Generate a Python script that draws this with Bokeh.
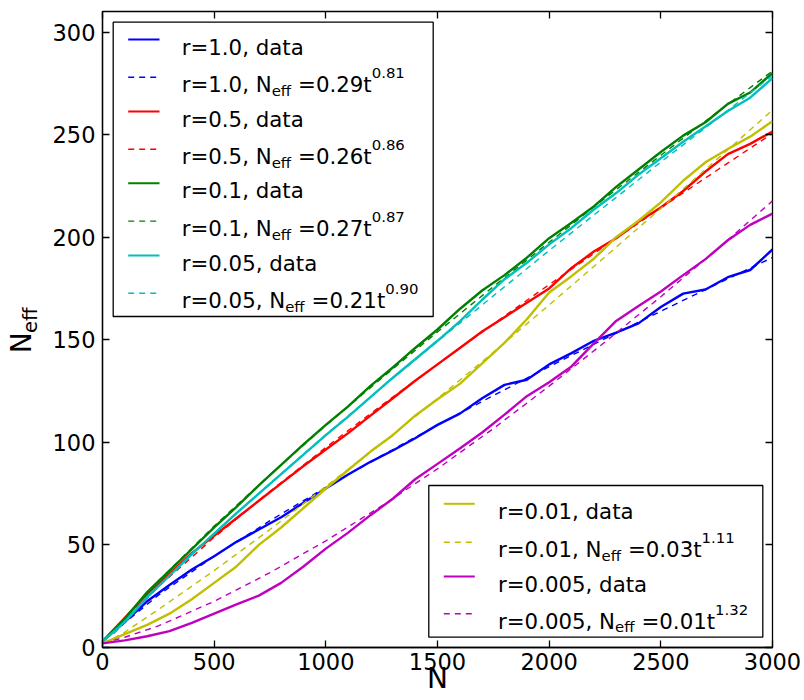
from bokeh.plotting import figure
from bokeh.models import Range1d, LinearAxis, FixedTicker
from bokeh.core.properties import value
from bokeh.embed import file_html
from bokeh.resources import INLINE

# ---------------- data ----------------
N_DATA = [0, 100, 200, 300, 400, 500, 600, 700, 800, 900, 1000, 1100, 1200, 1300, 1400,
          1500, 1600, 1700, 1800, 1900, 2000, 2100, 2200, 2300, 2400, 2500, 2600, 2700,
          2800, 2900, 3000]
BLUE_DATA = [3, 12.5, 22.5, 30.5, 38, 44.5, 51.5, 57.5, 63.5, 70.5, 77.5, 84.3, 90.5, 96, 102,
             108.5, 114, 121.5, 128, 130.5, 138, 143.5, 149.5, 153.5, 158, 166, 172.5, 174.5,
             180.5, 184, 194]
RED_DATA = [3, 14.5, 26, 36, 46, 54.5, 63, 71.5, 80, 88.5, 96.5, 104.5, 113, 121.5, 130,
            138, 146, 154, 161, 168, 175, 185, 193, 199.5, 207.5, 214.5, 222.5, 232,
            240.5, 245.5, 251.5]
GREEN_DATA = [3, 14, 27, 37.5, 48, 58.5, 68.5, 79, 89, 99, 108.5, 117.5, 127.5, 136.5, 146,
              155, 165, 174, 181.5, 190, 199.5, 207, 215, 224.5, 233, 241.5, 249.5, 256,
              265, 270.5, 280]
CYAN_DATA = [3, 12.5, 24.5, 35, 45.5, 55.5, 65.5, 75, 84.5, 94, 103.5, 112.5, 122, 131.5, 140.5,
             149.5, 159, 169.5, 179.5, 187.5, 196.5, 204.5, 213.5, 221.5, 230.5, 238.5, 246.5,
             254, 261.5, 268, 277.5]
YELLOW_DATA = [2, 6.5, 11, 16.5, 23.5, 31.5, 39.5, 50, 58.5, 68, 77.5, 86.5, 95.5, 103.5, 113,
               121, 128.5, 138.5, 148.5, 160, 173, 181, 189.5, 200, 208, 217, 227.5, 236.5,
               243, 249, 256.5]
MAGENTA_DATA = [2, 3.5, 5.5, 8, 12, 16.5, 21, 25.3, 31.5, 39.5, 48.2, 56, 64.5, 72.5, 82,
                89.5, 97, 104.8, 113.5, 122.5, 129.3, 137, 148.2, 159.2, 166.5, 173.5, 181.5,
                189.3, 198.5, 206, 211.5]

N_FIT = [50, 100, 250, 500, 750, 1000, 1250, 1500, 1750, 2000, 2250, 2500, 2750, 3000]
BLUE_FIT = [7, 12.1, 25.5, 44.5, 61.8, 78.1, 93.5, 108.4, 122.8, 136.9, 150.5, 163.9, 177.1, 190.1]
RED_FIT = [7.4, 13.4, 29.6, 53.7, 76.1, 97.5, 118.1, 138, 157.7, 176.9, 195.7, 214.3, 232.5, 250.6]
GREEN_FIT = [8.0, 14.6, 32.4, 59.2, 84.2, 108.2, 131.3, 153.8, 175.9, 197.5, 219, 239.9, 260.7, 281]
CYAN_FIT = [7.0, 13.1, 29.7, 55.6, 80.0, 103.7, 126.7, 149.2, 171.4, 193.5, 215.1, 236.6, 257.6, 278.8]
YELLOW_FIT = [4.5, 7.5, 18.5, 37.5, 57.5, 78.5, 99.5, 121.3, 143.9, 167.0, 190.4, 214.0, 237.8, 262.0]
MAGENTA_FIT = [3.5, 5, 10.5, 22.5, 36.5, 52, 69, 87.1, 106.7, 127.4, 148.9, 171.0, 193.9, 217.7]

R_LABELS = ["1.0", "0.5", "0.1", "0.05", "0.01", "0.005"]
FIT_COEF = ["0.29", "0.26", "0.27", "0.21", "0.03", "0.01"]
FIT_EXP = ["0.81", "0.86", "0.87", "0.90", "1.11", "1.32"]
COLORS = ["#0000ff", "#ff0000", "#008000", "#00bfbf", "#bfbf00", "#bf00bf"]

X_TICKS = [0, 500, 1000, 1500, 2000, 2500, 3000]
Y_TICKS = [0, 50, 100, 150, 200, 250, 300]
X_MAX, Y_MAX = 3000, 310

DATA = [BLUE_DATA, RED_DATA, GREEN_DATA, CYAN_DATA, YELLOW_DATA, MAGENTA_DATA]
FITS = [BLUE_FIT, RED_FIT, GREEN_FIT, CYAN_FIT, YELLOW_FIT, MAGENTA_FIT]

# ---------------- layout ----------------
FRAME_W, FRAME_H = 670, 636
FONT = "DejaVu Sans"
MAIN_FS, SMALL_FS = 21.3, 14.9
DASH = "6 5"
NBSP = "\u00a0"


def fx(px):
    return px * X_MAX / FRAME_W


def fy(py):
    return Y_MAX - py * Y_MAX / FRAME_H


ADV = {' ': 0.318, '=': 0.838, '.': 0.318, ',': 0.318, 'r': 0.411, 'N': 0.748,
       't': 0.392, 'd': 0.635, 'a': 0.613, 'e': 0.615, 'f': 0.352}
for _d in "0123456789":
    ADV[_d] = 0.636


def width(s, fs):
    return sum(ADV[c] for c in s) * fs


p = figure(frame_width=FRAME_W, frame_height=FRAME_H,
           x_range=Range1d(0, X_MAX), y_range=Range1d(0, Y_MAX),
           output_backend="svg", toolbar_location=None,
           min_border_left=102, min_border_right=32, min_border_top=11, min_border_bottom=53)
p.grid.visible = False
p.background_fill_color = "white"
p.border_fill_color = "white"
p.outline_line_color = "black"
p.outline_line_width = 1.3

p.xaxis.ticker = FixedTicker(ticks=X_TICKS)
p.yaxis.ticker = FixedTicker(ticks=Y_TICKS)
for ax in (p.xaxis, p.yaxis):
    ax.major_label_text_font = FONT
    ax.major_label_text_font_size = "22.5px"
    ax.major_label_text_color = "black"
    ax.major_tick_in = 7
    ax.major_tick_out = 0
    ax.minor_tick_line_color = None
    ax.axis_line_color = "black"
    ax.axis_line_width = 1.3
    ax.major_tick_line_width = 1.3
    ax.major_tick_line_color = "black"
    ax.axis_label_text_font = FONT
    ax.axis_label_text_font_style = "normal"
    ax.axis_label_text_color = "black"
p.yaxis.major_label_standoff = 7
p.xaxis.major_label_standoff = 5

# x label
p.xaxis.axis_label = "N"
p.xaxis.axis_label_text_font_size = "28px"
p.xaxis.axis_label_standoff = -11

# y label: N with subscript "eff" (subscript on the inner axis, N on an outer one)
p.yaxis.axis_label = NBSP * 3 + "eff"
p.yaxis.axis_label_text_font_size = "19.6px"
p.yaxis.axis_label_standoff = 8

ylab = LinearAxis(ticker=FixedTicker(ticks=[]), axis_line_color=None,
                  major_tick_line_color=None, minor_tick_line_color=None,
                  major_tick_in=0, major_tick_out=0,
                  major_label_text_font_size="0px", major_label_standoff=0,
                  axis_label="N" + NBSP * 3, axis_label_text_font=FONT,
                  axis_label_text_font_size="28px", axis_label_text_font_style="normal",
                  axis_label_text_color="black", axis_label_standoff=-22)
p.add_layout(ylab, "left")

for ticks, side in ((X_TICKS, "above"), (Y_TICKS, "right")):
    extra = LinearAxis(ticker=FixedTicker(ticks=ticks),
                       major_label_overrides={t: "" for t in ticks},
                       major_label_text_font_size="0px", major_label_standoff=0,
                       major_tick_in=7, major_tick_out=0, major_tick_line_width=1.3,
                       minor_tick_line_color=None, axis_line_color=None)
    p.add_layout(extra, side)

# ---------------- series ----------------
for data, fit, color in zip(DATA, FITS, COLORS):
    p.line(N_DATA, data, line_color=color, line_width=2.4)
    p.line(N_FIT, fit, line_color=color, line_width=1.4, line_dash=DASH)

# ---------------- legends (positions in pixels from the frame's top-left) ----------------
LEGENDS = [
    dict(series=[0, 1, 2, 3], box=(10.7, 330.7, 10.7, 305.0), line_x=(25.7, 57.0), text_x=79.2,
         rows=[28.0, 65.7, 100.0, 137.7, 171.8, 209.6, 244.0, 281.7]),
    dict(series=[4, 5], box=(326.3, 660.3, 474.0, 625.7), line_x=(341.3, 372.3), text_x=395.5,
         rows=[492.3, 530.7, 565.0, 602.3]),
]

main_runs = {"x": [], "y": [], "text": []}
sub_runs = {"x": [], "y": [], "text": []}
sup_runs = {"x": [], "y": [], "text": []}

for leg in LEGENDS:
    l, r, t, b = leg["box"]
    p.quad(left=[fx(l)], right=[fx(r)], top=[fy(t)], bottom=[fy(b)],
           fill_color="white", line_color="black", line_width=1.3)
    for k, si in enumerate(leg["series"]):
        for j, dashed in enumerate((False, True)):
            ry = leg["rows"][2 * k + j]
            x0, x1 = leg["line_x"]
            p.line([fx(x0), fx(x1)], [fy(ry), fy(ry)], line_color=COLORS[si],
                   line_width=1.4 if dashed else 2.0, line_dash=DASH if dashed else "solid")
            base = ry + 7.5
            tx = leg["text_x"]
            if not dashed:
                main_runs["x"].append(fx(tx)); main_runs["y"].append(fy(base))
                main_runs["text"].append("r=%s, data" % R_LABELS[si])
            else:
                s1 = "r=%s, N" % R_LABELS[si]
                main_runs["x"].append(fx(tx)); main_runs["y"].append(fy(base))
                main_runs["text"].append(s1)
                tx += width(s1, MAIN_FS)
                sub_runs["x"].append(fx(tx)); sub_runs["y"].append(fy(base + 6))
                sub_runs["text"].append("eff")
                tx += width("eff", SMALL_FS) + width(" ", MAIN_FS)
                s2 = "=%st" % FIT_COEF[si]
                main_runs["x"].append(fx(tx)); main_runs["y"].append(fy(base))
                main_runs["text"].append(s2)
                tx += width(s2, MAIN_FS)
                sup_runs["x"].append(fx(tx)); sup_runs["y"].append(fy(base - 11.3))
                sup_runs["text"].append(FIT_EXP[si])

for runs, fs in ((main_runs, MAIN_FS), (sub_runs, SMALL_FS), (sup_runs, SMALL_FS)):
    p.text(x="x", y="y", text="text", source=runs, text_font=value(FONT),
           text_font_size=value("%spx" % fs), text_color="black",
           text_align="left", text_baseline="alphabetic")

open("out.html", "w").write(file_html(p, INLINE))
